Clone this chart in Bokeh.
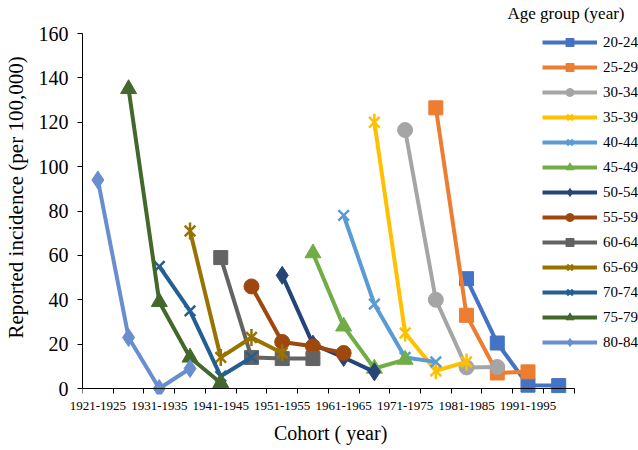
import math
from bokeh.plotting import figure
from bokeh.models import Legend, LegendItem, FixedTicker, Range1d, Label, LinearAxis, Title
from bokeh.embed import file_html
from bokeh.resources import INLINE

# ---------------- data ----------------
categories = ["1921-1925", "1926-1930", "1931-1935", "1936-1940", "1941-1945",
              "1946-1950", "1951-1955", "1956-1960", "1961-1965", "1966-1970",
              "1971-1975", "1976-1980", "1981-1985", "1986-1990", "1991-1995",
              "1996-2000"]
tick_labels = ["1921-1925", "1931-1935", "1941-1945", "1951-1955",
               "1961-1965", "1971-1975", "1981-1985", "1991-1995"]
y_ticks = [0, 20, 40, 60, 80, 100, 120, 140, 160]

age_groups = ["20-24", "25-29", "30-34", "35-39", "40-44", "45-49", "50-54",
              "55-59", "60-64", "65-69", "70-74", "75-79", "80-84"]

cohorts_20_24 = ["1981-1985", "1986-1990", "1991-1995", "1996-2000"]
cohorts_25_29 = ["1976-1980", "1981-1985", "1986-1990", "1991-1995"]
cohorts_30_34 = ["1971-1975", "1976-1980", "1981-1985", "1986-1990"]
cohorts_35_39 = ["1966-1970", "1971-1975", "1976-1980", "1981-1985"]
cohorts_40_44 = ["1961-1965", "1966-1970", "1971-1975", "1976-1980"]
cohorts_45_49 = ["1956-1960", "1961-1965", "1966-1970", "1971-1975"]
cohorts_50_54 = ["1951-1955", "1956-1960", "1961-1965", "1966-1970"]
cohorts_55_59 = ["1946-1950", "1951-1955", "1956-1960", "1961-1965"]
cohorts_60_64 = ["1941-1945", "1946-1950", "1951-1955", "1956-1960"]
cohorts_65_69 = ["1936-1940", "1941-1945", "1946-1950", "1951-1955"]
cohorts_70_74 = ["1931-1935", "1936-1940", "1941-1945", "1946-1950"]
cohorts_75_79 = ["1926-1930", "1931-1935", "1936-1940", "1941-1945"]
cohorts_80_84 = ["1921-1925", "1926-1930", "1931-1935", "1936-1940"]

values_20_24 = [49.5, 20.5, 1.5, 1.3]
values_25_29 = [126.5, 33, 7, 7.5]
values_30_34 = [116.5, 40, 9.5, 9.7]
values_35_39 = [120, 25, 8, 12]
values_40_44 = [78, 38, 14, 12]
values_45_49 = [61, 28, 9, 13]
values_50_54 = [51, 20, 14, 7.5]
values_55_59 = [46, 21, 19, 16]
values_60_64 = [59, 14, 13.5, 13.5]
values_65_69 = [71, 14, 23, 16]
values_70_74 = [55, 35, 5.5, 14]
values_75_79 = [135, 39, 14, 2.5]
values_80_84 = [94, 23, 0, 9]

series_cohorts = [cohorts_20_24, cohorts_25_29, cohorts_30_34, cohorts_35_39,
                  cohorts_40_44, cohorts_45_49, cohorts_50_54, cohorts_55_59,
                  cohorts_60_64, cohorts_65_69, cohorts_70_74, cohorts_75_79,
                  cohorts_80_84]
series_values = [values_20_24, values_25_29, values_30_34, values_35_39,
                 values_40_44, values_45_49, values_50_54, values_55_59,
                 values_60_64, values_65_69, values_70_74, values_75_79,
                 values_80_84]

# ---------------- styles ----------------
colors = ["#4472C4", "#ED7D31", "#A5A5A5", "#FFC000", "#5B9BD5", "#70AD47",
          "#264478", "#9E480E", "#636363", "#997300", "#255E91", "#43682B",
          "#698ED0"]
markers = ["square", "square", "circle", "star6", "x", "triangle",
           "diamond", "circle", "square", "star6", "x", "triangle",
           "diamond"]
marker_sizes = {"square": 14, "circle": 15, "star6": 15, "x": 15,
                "triangle": 16, "diamond": 18}

FONT = "Liberation Serif"

# layout geometry (pixels)
W, H = 638, 450
LEFT, BOTTOM_PAD = 77, 56          # frame left edge, space under frame
AX_RIGHT = 573                     # where the category axis ends
Y0_PX, Y160_PX = 388, 33           # pixel rows of y=0 and y=160
FRAME_BOTTOM = H - BOTTOM_PAD

n_cat = len(categories)
px_per_cat = (AX_RIGHT - LEFT) / n_cat
px_per_unit = (Y0_PX - Y160_PX) / 160.0
x_end = (W - LEFT) / px_per_cat
y_end = 160 + Y160_PX / px_per_unit
y_start = -(FRAME_BOTTOM - Y0_PX) / px_per_unit

p = figure(width=W, height=H, output_backend="svg", toolbar_location=None,
           x_range=Range1d(0, x_end), y_range=Range1d(y_start, y_end),
           min_border_left=LEFT, min_border_right=0, min_border_top=0,
           min_border_bottom=BOTTOM_PAD)
p.outline_line_color = None
p.xgrid.visible = False
p.ygrid.visible = False
p.background_fill_color = "white"
p.border_fill_color = "white"

# x axis (labels only): labels at every other category centre
label_pos = [categories.index(c) + 0.5 for c in tick_labels]
xa = p.xaxis[0]
xa.ticker = FixedTicker(ticks=label_pos, minor_ticks=[])
xa.major_label_overrides = {pos: lab for pos, lab in zip(label_pos, tick_labels)}
xa.axis_line_color = None
xa.major_tick_line_color = None
xa.minor_tick_line_color = None
xa.major_tick_out = 0
xa.major_tick_in = 0
xa.major_label_standoff = 7
xa.major_label_text_font = FONT
xa.major_label_text_font_size = "13px"
xa.major_label_text_color = "black"

# x axis line with ticks at category boundaries, sitting at y = 0
xline = LinearAxis(fixed_location=0, bounds=(0, n_cat),
                   ticker=FixedTicker(ticks=[], minor_ticks=list(range(n_cat + 1))),
                   major_label_text_font_size="0px",
                   major_tick_line_color=None,
                   minor_tick_out=5, minor_tick_in=0,
                   minor_tick_line_color="black",
                   axis_line_color="black")
p.add_layout(xline, "below")

# x axis title, centred under the category axis (not the whole frame)
title_width = 113   # approx. rendered width of the title text
xtitle = Title(text="Cohort ( year)", align="left",
               offset=(LEFT + AX_RIGHT) / 2.0 - title_width / 2.0 - LEFT,
               standoff=14,
               text_font=FONT, text_font_size="20px", text_font_style="normal",
               text_color="black")
p.add_layout(xtitle, "below")

ya = p.yaxis[0]
ya.bounds = (0, 160)
ya.ticker = FixedTicker(ticks=y_ticks, minor_ticks=[])
ya.major_tick_out = 5
ya.major_tick_in = 0
ya.major_tick_line_color = "black"
ya.minor_tick_line_color = None
ya.major_label_standoff = 9
ya.major_label_text_font = FONT
ya.major_label_text_font_size = "20px"
ya.major_label_text_color = "black"
ya.axis_label = "Reported incidence (per 100,000)"
ya.axis_label_text_font = FONT
ya.axis_label_text_font_size = "21px"
ya.axis_label_text_font_style = "normal"
ya.axis_label_text_color = "black"
ya.axis_label_standoff = 8
ya.axis_line_color = "black"

items = []
for age, cohorts, vals, col, mk in zip(age_groups, series_cohorts, series_values,
                                       colors, markers):
    xs = [categories.index(c) + 0.5 for c in cohorts]
    rends = [p.line(xs, vals, line_width=4, line_color=col)]
    if mk == "star6":
        rends.append(p.scatter(xs, vals, marker="x", size=15, line_color=col,
                               line_width=2.5))
        rends.append(p.scatter(xs, vals, marker="dash", size=17, angle=math.pi / 2,
                               line_color=col, line_width=2.5))
    else:
        lw = 2.5 if mk == "x" else 1
        rends.append(p.scatter(xs, vals, marker=mk, size=marker_sizes[mk],
                               fill_color=col, line_color=col, line_width=lw))
    items.append(LegendItem(label=age, renderers=rends))

leg_left_px, leg_bottom_px = 537, 352
legend = Legend(items=items,
                location=(leg_left_px - LEFT, FRAME_BOTTOM - leg_bottom_px),
                orientation="vertical",
                glyph_width=55, glyph_height=20, label_height=20, spacing=5,
                padding=5, margin=0, label_standoff=6,
                label_text_font=FONT, label_text_font_size="15px",
                label_text_color="black",
                border_line_color=None, background_fill_alpha=0)
p.add_layout(legend, "center")

title = Label(x=619 - LEFT, y=FRAME_BOTTOM - 13, x_units="screen", y_units="screen",
              text="Age group (year)", text_align="right",
              text_baseline="middle", text_font=FONT,
              text_font_size="17px", text_color="black")
p.add_layout(title)

open("out.html", "w").write(file_html(p, INLINE))
